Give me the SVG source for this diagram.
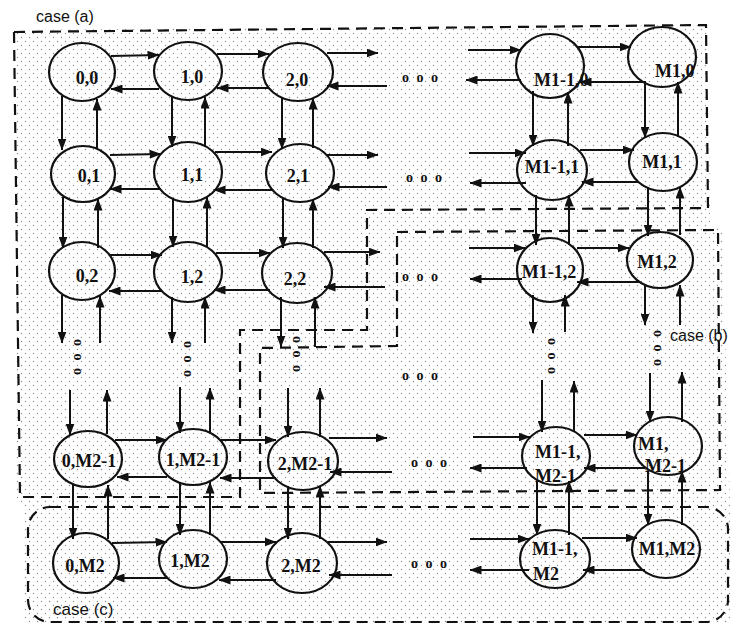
<svg xmlns="http://www.w3.org/2000/svg" width="731" height="625" viewBox="0 0 731 625">
<style>
.bg{fill:url(#dots)}
.n{fill:none;stroke:#111;stroke-width:2.2}
.lbl{font-family:"Liberation Serif","Times New Roman",serif;font-weight:bold;font-size:18px;fill:#111}
.c{text-anchor:middle}
.e{stroke:#111;stroke-width:2;fill:none;marker-end:url(#ah)}
.box{fill:none;stroke:#111;stroke-width:2.2;stroke-dasharray:11 7}
.dots3{font-family:"Liberation Serif","Times New Roman",serif;font-weight:bold;font-size:14px;letter-spacing:2px;fill:#111;text-anchor:middle}
.case{font-family:"Liberation Sans",Arial,sans-serif;font-size:16px;fill:#111}
</style>
<defs>
<pattern id="dots" width="8" height="8" patternUnits="userSpaceOnUse">
<circle cx="1.5" cy="1.5" r="0.7" fill="#8a8a8a"/>
<circle cx="5.5" cy="5.5" r="0.7" fill="#8a8a8a"/>
</pattern>
<marker id="ah" viewBox="0 0 12 9" refX="11.5" refY="4.5" markerWidth="12" markerHeight="9" markerUnits="userSpaceOnUse" orient="auto"><path d="M0,0 L12,4.5 L0,9 Z" fill="#111"/></marker>
</defs>
<rect width="731" height="625" fill="#fff"/>
<polygon class="bg" points="16,30 708,25 710,228 722,228 730,505 730,625 24,625 24,505 16,497"/>

<g id="boxes">
<path id="case-a" class="box" d="M14,32 L706,25 L708,208 L367,210 L367,330 L240,330 L240,497 L20,497 Z"/>
<path id="case-b" class="box" d="M397,232 L718,230 L720,490 L260,493 L260,348 L397,346 Z"/>
<rect id="case-c" class="box" x="28" y="507" width="700" height="115" rx="22"/>
<text class="case" x="36" y="22">case (a)</text>
<text class="case" x="670" y="341">case (b)</text>
<text class="case" x="53" y="615" style="font-size:17px">case (c)</text>
</g>

<g id="connectors">
<!-- row 0 -->
<line class="e" x1="111" y1="56" x2="159" y2="55"/>
<line class="e" x1="159" y1="89" x2="111" y2="89"/>
<line class="e" x1="217" y1="54" x2="269" y2="54"/>
<line class="e" x1="269" y1="88" x2="217" y2="88"/>
<line class="e" x1="327" y1="53" x2="378" y2="53"/>
<line class="e" x1="387" y1="86" x2="327" y2="86"/>
<line class="e" x1="468" y1="50" x2="521" y2="50"/>
<line class="e" x1="521" y1="80" x2="466" y2="80"/>
<line class="e" x1="577" y1="47" x2="631" y2="47"/>
<line class="e" x1="645" y1="82" x2="580" y2="82"/>
<!-- row 1 -->
<line class="e" x1="110" y1="155" x2="161" y2="154"/>
<line class="e" x1="161" y1="189" x2="110" y2="189"/>
<line class="e" x1="215" y1="152" x2="272" y2="152"/>
<line class="e" x1="272" y1="190" x2="214" y2="190"/>
<line class="e" x1="327" y1="155" x2="378" y2="155"/>
<line class="e" x1="387" y1="187" x2="328" y2="187"/>
<line class="e" x1="469" y1="153" x2="526" y2="153"/>
<line class="e" x1="526" y1="183" x2="470" y2="183"/>
<line class="e" x1="580" y1="150" x2="634" y2="150"/>
<line class="e" x1="638" y1="182" x2="582" y2="182"/>
<!-- row 2 -->
<line class="e" x1="109" y1="255" x2="162" y2="255"/>
<line class="e" x1="162" y1="291" x2="109" y2="291"/>
<line class="e" x1="216" y1="253" x2="270" y2="253"/>
<line class="e" x1="270" y1="290" x2="214" y2="290"/>
<line class="e" x1="324" y1="252" x2="380" y2="252"/>
<line class="e" x1="385" y1="287" x2="324" y2="287"/>
<line class="e" x1="469" y1="248" x2="525" y2="248"/>
<line class="e" x1="522" y1="279" x2="470" y2="279"/>
<line class="e" x1="577" y1="248" x2="629" y2="248"/>
<line class="e" x1="640" y1="282" x2="577" y2="282"/>
<!-- row M2-1 -->
<line class="e" x1="115" y1="440" x2="167" y2="440"/>
<line class="e" x1="167" y1="477" x2="117" y2="477"/>
<line class="e" x1="221" y1="440" x2="276" y2="440"/>
<line class="e" x1="276" y1="478" x2="220" y2="478"/>
<line class="e" x1="329" y1="438" x2="387" y2="438"/>
<line class="e" x1="392" y1="472" x2="330" y2="472"/>
<line class="e" x1="473" y1="437" x2="530" y2="437"/>
<line class="e" x1="527" y1="468" x2="470" y2="468"/>
<line class="e" x1="584" y1="435" x2="637" y2="435"/>
<line class="e" x1="645" y1="468" x2="584" y2="468"/>
<!-- row M2 -->
<line class="e" x1="112" y1="543" x2="167" y2="542"/>
<line class="e" x1="167" y1="578" x2="113" y2="578"/>
<line class="e" x1="220" y1="542" x2="276" y2="542"/>
<line class="e" x1="276" y1="580" x2="219" y2="580"/>
<line class="e" x1="328" y1="542" x2="387" y2="542"/>
<line class="e" x1="392" y1="575" x2="329" y2="575"/>
<line class="e" x1="470" y1="539" x2="529" y2="539"/>
<line class="e" x1="529" y1="570" x2="470" y2="570"/>
<line class="e" x1="582" y1="538" x2="637" y2="538"/>
<line class="e" x1="645" y1="570" x2="583" y2="570"/>
<!-- vertical rows 0-1 -->
<line class="e" x1="62" y1="96" x2="62" y2="150"/>
<line class="e" x1="97" y1="148" x2="97" y2="99"/>
<line class="e" x1="172" y1="96" x2="172" y2="147"/>
<line class="e" x1="205" y1="147" x2="205" y2="97"/>
<line class="e" x1="282" y1="97" x2="282" y2="149"/>
<line class="e" x1="313" y1="148" x2="313" y2="98"/>
<line class="e" x1="533" y1="91" x2="533" y2="146"/>
<line class="e" x1="568" y1="146" x2="568" y2="92"/>
<line class="e" x1="645" y1="81" x2="645" y2="138"/>
<line class="e" x1="678" y1="137" x2="678" y2="82"/>
<!-- vertical rows 1-2 -->
<line class="e" x1="63" y1="197" x2="63" y2="248"/>
<line class="e" x1="98" y1="248" x2="98" y2="199"/>
<line class="e" x1="173" y1="198" x2="173" y2="247"/>
<line class="e" x1="207" y1="247" x2="207" y2="197"/>
<line class="e" x1="283" y1="198" x2="283" y2="248"/>
<line class="e" x1="313" y1="248" x2="313" y2="199"/>
<line class="e" x1="536" y1="195" x2="536" y2="245"/>
<line class="e" x1="569" y1="245" x2="569" y2="195"/>
<line class="e" x1="648" y1="187" x2="648" y2="236"/>
<line class="e" x1="680" y1="235" x2="680" y2="187"/>
<!-- vertical row 2 to dots -->
<line class="e" x1="62" y1="295" x2="62" y2="343"/>
<line class="e" x1="100" y1="343" x2="100" y2="296"/>
<line class="e" x1="172" y1="297" x2="172" y2="343"/>
<line class="e" x1="205" y1="343" x2="205" y2="297"/>
<line class="e" x1="281" y1="297" x2="281" y2="347"/>
<line class="e" x1="315" y1="347" x2="315" y2="297"/>
<line class="e" x1="533" y1="295" x2="533" y2="333"/>
<line class="e" x1="565" y1="332" x2="565" y2="295"/>
<line class="e" x1="645" y1="284" x2="645" y2="325"/>
<line class="e" x1="680" y1="325" x2="680" y2="285"/>
<!-- vertical dots to row M2-1 -->
<line class="e" x1="70" y1="390" x2="70" y2="435"/>
<line class="e" x1="107" y1="434" x2="107" y2="390"/>
<line class="e" x1="180" y1="387" x2="180" y2="433"/>
<line class="e" x1="210" y1="433" x2="210" y2="388"/>
<line class="e" x1="288" y1="388" x2="288" y2="437"/>
<line class="e" x1="320" y1="437" x2="320" y2="388"/>
<line class="e" x1="542" y1="380" x2="542" y2="432"/>
<line class="e" x1="574" y1="432" x2="574" y2="381"/>
<line class="e" x1="650" y1="373" x2="650" y2="422"/>
<line class="e" x1="682" y1="422" x2="682" y2="372"/>
<!-- vertical rows M2-1 to M2 -->
<line class="e" x1="73" y1="484" x2="73" y2="539"/>
<line class="e" x1="108" y1="539" x2="108" y2="485"/>
<line class="e" x1="180" y1="482" x2="180" y2="535"/>
<line class="e" x1="210" y1="535" x2="210" y2="482"/>
<line class="e" x1="288" y1="486" x2="288" y2="539"/>
<line class="e" x1="320" y1="539" x2="320" y2="486"/>
<line class="e" x1="537" y1="481" x2="537" y2="535"/>
<line class="e" x1="569" y1="535" x2="569" y2="481"/>
<line class="e" x1="648" y1="471" x2="648" y2="525"/>
<line class="e" x1="682" y1="525" x2="682" y2="471"/>
</g>

<g id="ellipsis">
<text class="dots3" x="421" y="82">o o o</text>
<text class="dots3" x="425" y="182">o o o</text>
<text class="dots3" x="421" y="281">o o o</text>
<text class="dots3" x="421" y="380">o o o</text>
<text class="dots3" x="430" y="467">o o o</text>
<text class="dots3" x="430" y="568">o o o</text>
<text class="dots3" transform="translate(78,358) rotate(90)" y="4">o o o</text>
<text class="dots3" transform="translate(188,360) rotate(90)" y="4">o o o</text>
<text class="dots3" transform="translate(297,355) rotate(90)" y="4">o o o</text>
<text class="dots3" transform="translate(552,357) rotate(90)" y="4">o o o</text>
<text class="dots3" transform="translate(658,349) rotate(90)" y="4">o o o</text>
</g>

<g id="n-0-0"><ellipse class="n" cx="82" cy="72" rx="33" ry="29"/><text class="lbl c" x="87" y="84">0,0</text></g>
<g id="n-1-0"><ellipse class="n" cx="188" cy="71" rx="34" ry="29"/><text class="lbl c" x="192" y="83">1,0</text></g>
<g id="n-2-0"><ellipse class="n" cx="298" cy="72" rx="35" ry="29"/><text class="lbl c" x="297" y="86">2,0</text></g>
<g id="n-M1m1-0"><ellipse class="n" cx="550" cy="66" rx="34" ry="32"/><text class="lbl" x="534" y="86">M1-1,0</text></g>
<g id="n-M1-0"><ellipse class="n" cx="662" cy="57" rx="34" ry="30"/><text class="lbl" x="655" y="77">M1,0</text></g>

<g id="n-0-1"><ellipse class="n" cx="83" cy="174" rx="32" ry="28"/><text class="lbl c" x="89" y="182">0,1</text></g>
<g id="n-1-1"><ellipse class="n" cx="188" cy="172" rx="34" ry="30"/><text class="lbl c" x="192" y="181">1,1</text></g>
<g id="n-2-1"><ellipse class="n" cx="300" cy="173" rx="34" ry="29"/><text class="lbl c" x="298" y="182">2,1</text></g>
<g id="n-M1m1-1"><ellipse class="n" cx="552" cy="170" rx="35" ry="30"/><text class="lbl c" x="552" y="173">M1-1,1</text></g>
<g id="n-M1-1"><ellipse class="n" cx="663" cy="162" rx="34" ry="29"/><text class="lbl c" x="662" y="168">M1,1</text></g>

<g id="n-0-2"><ellipse class="n" cx="82" cy="271" rx="33" ry="29"/><text class="lbl c" x="87" y="282">0,2</text></g>
<g id="n-1-2"><ellipse class="n" cx="188" cy="272" rx="34" ry="30"/><text class="lbl c" x="192" y="283">1,2</text></g>
<g id="n-2-2"><ellipse class="n" cx="297" cy="273" rx="35" ry="30"/><text class="lbl c" x="295" y="285">2,2</text></g>
<g id="n-M1m1-2"><ellipse class="n" cx="550" cy="270" rx="33" ry="32"/><text class="lbl c" x="549" y="278">M1-1,2</text></g>
<g id="n-M1-2"><ellipse class="n" cx="660" cy="260" rx="33" ry="28"/><text class="lbl c" x="657" y="268">M1,2</text></g>

<g id="n-0-M2m1"><ellipse class="n" cx="88" cy="459" rx="34" ry="28"/><text class="lbl c" x="89" y="467">0,M2-1</text></g>
<g id="n-1-M2m1"><ellipse class="n" cx="193" cy="457" rx="34" ry="28"/><text class="lbl c" x="193" y="466">1,M2-1</text></g>
<g id="n-2-M2m1"><ellipse class="n" cx="303" cy="461" rx="35" ry="29"/><text class="lbl c" x="305" y="470">2,M2-1</text></g>
<g id="n-M1m1-M2m1"><ellipse class="n" cx="556" cy="456" rx="34" ry="29"/><text class="lbl" x="535" y="458">M1-1,</text><text class="lbl" x="535" y="482">M2-1</text></g>
<g id="n-M1-M2m1"><ellipse class="n" cx="668" cy="446" rx="34" ry="29"/><text class="lbl" x="638" y="450">M1,</text><text class="lbl" x="645" y="472">M2-1</text></g>

<g id="n-0-M2"><ellipse class="n" cx="86" cy="563" rx="33" ry="30"/><text class="lbl c" x="85" y="572">0,M2</text></g>
<g id="n-1-M2"><ellipse class="n" cx="193" cy="559" rx="34" ry="29"/><text class="lbl c" x="190" y="567">1,M2</text></g>
<g id="n-2-M2"><ellipse class="n" cx="302" cy="563" rx="35" ry="30"/><text class="lbl c" x="301" y="572">2,M2</text></g>
<g id="n-M1m1-M2"><ellipse class="n" cx="555" cy="559" rx="35" ry="29"/><text class="lbl" x="532" y="555">M1-1,</text><text class="lbl" x="533" y="580">M2</text></g>
<g id="n-M1-M2"><ellipse class="n" cx="666" cy="549" rx="34" ry="29"/><text class="lbl c" x="667" y="555">M1,M2</text></g>
</svg>
